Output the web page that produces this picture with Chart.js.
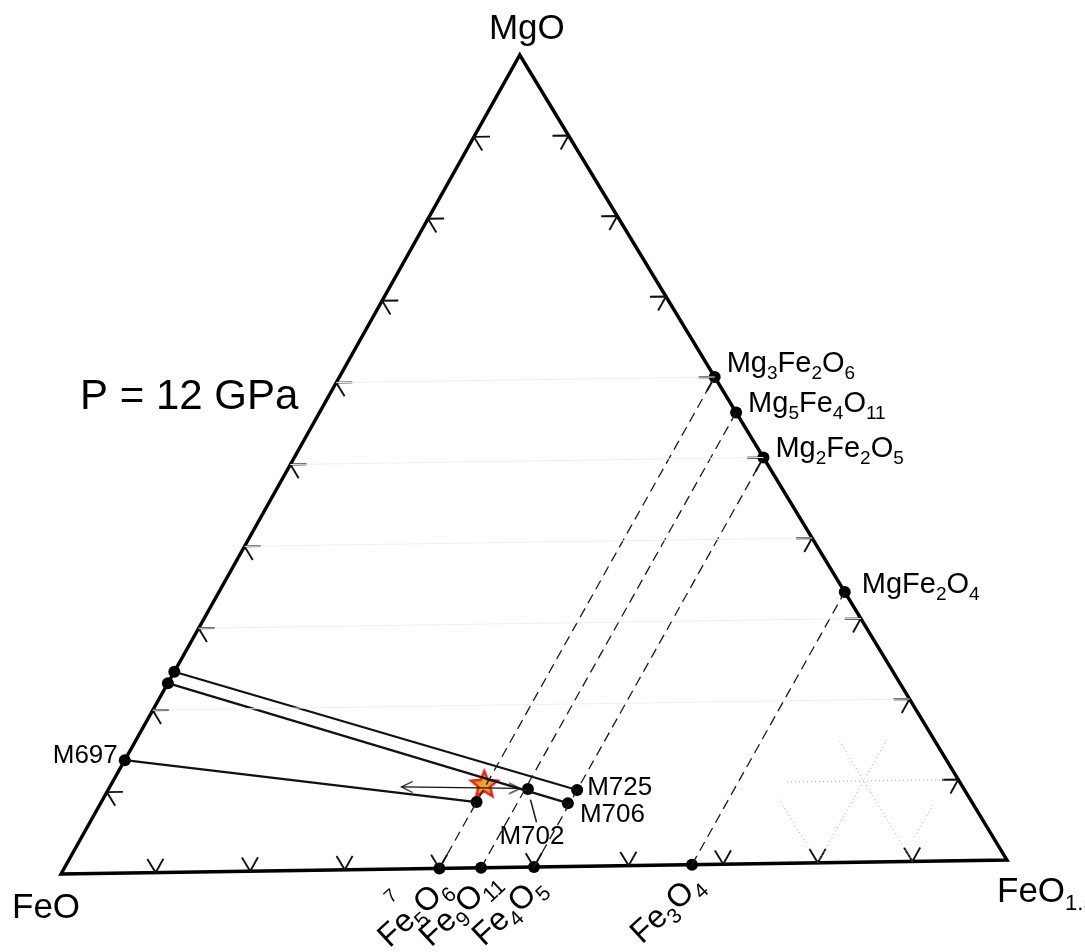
<!DOCTYPE html>
<html>
<head>
<meta charset="utf-8">
<script src="https://cdn.jsdelivr.net/npm/chart.js@4.4.0/dist/chart.umd.min.js"></script>
<style>
  html, body { margin: 0; padding: 0; background: #fff; }
  #wrap { width: 1085px; height: 952px; }
</style>
</head>
<body>
<div id="wrap"><canvas id="chart"></canvas></div>
<script>
// compositions are mole fractions [MgO, FeO1.5], FeO is the remainder
var cornerLabels = ['MgO', 'FeO', 'FeO1.5'];
var pressureLabel = 'P = 12 GPa';
var gridSteps = [0.1, 0.2, 0.3, 0.4, 0.5, 0.6, 0.7, 0.8, 0.9];

// FeO - FeO1.5 join
var feoxNames = ['Fe5O6', 'Fe9O11', 'Fe4O5', 'Fe3O4'];
var feoxFe3 = [0.400, 0.444, 0.500, 0.667];
// MgO - FeO1.5 join
var mgfeNames = ['Mg3Fe2O6', 'Mg5Fe4O11', 'Mg2Fe2O5', 'MgFe2O4'];
var mgfeMgO = [0.600, 0.556, 0.500, 0.333];

// experiments: (Mg,Fe)O on the FeO-MgO side tied to the oxide
var runNames = ['M725', 'M706', 'M697'];
var runStartMgO = [0.247, 0.233, 0.139];
var runEndMgO = [0.094, 0.078, 0.081];
var runEndFe3 = [0.500, 0.498, 0.400];
var m702Comp = [0.096, 0.447];
var m702Leader = [[0.083, 0.456], [0.055, 0.476]];
var startComp = [0.102, 0.398];
var arrowMgO = [0.101, 0.097];
var arrowFe3 = [0.311, 0.438];

// faint dotted grid pieces near the FeO1.5 corner
var dottedPieces = [
  [[0.1, 0.719], [0.1, 0.888]],
  [[0.0, 0.9], [0.15, 0.75]],
  [[0.0, 0.8], [0.15, 0.8]],
  [[0.03, 0.888], [0.07, 0.888]],
  [[0.02, 0.78], [0.08, 0.72]]
];

var FONT = '"Liberation Sans", Arial, Helvetica, sans-serif';
var apexShift = 0.485, baseTilt = 0.0171, tickLen = 0.017;

function xy(mgo, fe3) {
  return { x: fe3 + apexShift * mgo, y: mgo + baseTilt * fe3 };
}

function line(pts, color, width, dash) {
  return {
    data: pts.map(function (p) { return xy(p[0], p[1]); }),
    showLine: true, fill: false, tension: 0,
    borderColor: color, borderWidth: width, borderDash: dash || [],
    borderJoinStyle: 'miter', borderCapStyle: 'butt',
    pointRadius: 0, pointHoverRadius: 0, clip: false
  };
}

function makeStar() {
  var c = document.createElement('canvas');
  c.width = 34; c.height = 34;
  var g = c.getContext('2d');
  g.beginPath();
  for (var i = 0; i < 10; i++) {
    var r = i % 2 === 0 ? 14 : 6.2;
    var ang = -Math.PI / 2 + i * Math.PI / 5;
    g.lineTo(17 + r * Math.cos(ang), 17 + r * Math.sin(ang));
  }
  g.closePath();
  g.fillStyle = '#f4a11f';
  g.fill();
  g.strokeStyle = '#e4241b';
  g.lineWidth = 2.4;
  g.lineJoin = 'miter';
  g.stroke();
  return c;
}

function makeHead(dir) {
  var c = document.createElement('canvas');
  c.width = 26; c.height = 26;
  var g = c.getContext('2d');
  g.strokeStyle = '#111';
  g.lineWidth = 1.3;
  g.beginPath();
  g.moveTo(13 + dir * 11, 7.5);
  g.lineTo(13, 13);
  g.lineTo(13 + dir * 11, 18.5);
  g.stroke();
  return c;
}

var datasets = [];

// faint grid
[0.2, 0.3, 0.4, 0.5, 0.6].forEach(function (t) {
  datasets.push(line([[t, 0], [t, 1 - t]], '#efefef', 1));
});
dottedPieces.forEach(function (p) {
  datasets.push(line(p, '#a8a8a8', 1, [1, 3]));
});

// dashed joins
feoxFe3.forEach(function (b, i) {
  datasets.push(line([[0, b], [mgfeMgO[i], 1 - mgfeMgO[i]]], '#1a1a1a', 1.3, [10, 6]));
});

// ticks
gridSteps.forEach(function (t) {
  var L = tickLen;
  datasets.push(line([[L, t - L], [0, t], [L, t]], '#111', 1.9));
  datasets.push(line([[t, L], [t, 0], [t - L, L]], '#111', 1.9));
  datasets.push(line([[t, 1 - t - L], [t, 1 - t], [t - L, 1 - t]], '#111', 1.9));
});

// outline
datasets.push(line([[0, 0], [0, 1], [1, 0], [0, 0], [0, 1]], '#000', 3.4));

// tie lines
runStartMgO.forEach(function (a, i) {
  datasets.push(line([[a, 0], [runEndMgO[i], runEndFe3[i]]], '#111', 2.2));
});
datasets.push(line(m702Leader, '#222', 1.6));

// double arrow
datasets.push(line([[arrowMgO[0], arrowFe3[0]], [arrowMgO[1], arrowFe3[1]]], '#111', 1.3));
datasets.push({
  data: [xy(arrowMgO[0], arrowFe3[0]), xy(arrowMgO[1], arrowFe3[1])],
  showLine: false, pointStyle: [makeHead(1), makeHead(-1)], pointRadius: 12, clip: false
});

// points
var dots = [];
feoxFe3.forEach(function (b) { dots.push(xy(0, b)); });
mgfeMgO.forEach(function (a) { dots.push(xy(a, 1 - a)); });
runStartMgO.forEach(function (a) { dots.push(xy(a, 0)); });
runEndMgO.forEach(function (a, i) { dots.push(xy(a, runEndFe3[i])); });
dots.push(xy(m702Comp[0], m702Comp[1]));
datasets.push({
  data: dots, showLine: false, pointRadius: 6, pointHoverRadius: 6,
  pointBackgroundColor: '#000', pointBorderColor: '#000', pointBorderWidth: 0, clip: false
});

// starting composition
datasets.push({
  data: [xy(startComp[0], startComp[1])],
  showLine: false, pointStyle: makeStar(), pointRadius: 14, clip: false
});

function drawFormula(ctx, text, x, y, size, subSize, drop, align, chem) {
  var parts = chem ? text.match(/[A-Za-z]+|[\d.]+/g) : [text];
  var sub = parts.map(function (p) { return chem && /^[\d.]/.test(p); });
  var widths = parts.map(function (p, i) {
    ctx.font = (sub[i] ? subSize : size) + 'px ' + FONT;
    return ctx.measureText(p).width;
  });
  var total = widths.reduce(function (s, w) { return s + w; }, 0);
  var cx = align === 'center' ? x - total / 2 : (align === 'right' ? x - total : x);
  ctx.textAlign = 'left';
  ctx.textBaseline = 'alphabetic';
  parts.forEach(function (p, i) {
    ctx.font = (sub[i] ? subSize : size) + 'px ' + FONT;
    ctx.fillText(p, cx, y + (sub[i] ? drop : 0));
    cx += widths[i];
  });
}

var labelPlugin = {
  id: 'labels',
  afterDatasetsDraw: function (chart) {
    var ctx = chart.ctx;
    var sx = chart.scales.x, sy = chart.scales.y;
    function px(a, b) {
      var p = xy(a, b);
      return [sx.getPixelForValue(p.x), sy.getPixelForValue(p.y)];
    }
    ctx.save();
    ctx.fillStyle = '#000';

    var top = px(1, 0), left = px(0, 0), right = px(0, 1);
    drawFormula(ctx, cornerLabels[0], top[0] + 7, top[1] - 16, 35, 22, 8, 'center', false);
    drawFormula(ctx, cornerLabels[1], left[0] - 49, left[1] + 44, 35, 22, 8, 'left', true);
    drawFormula(ctx, cornerLabels[2], right[0] - 10, right[1] + 42, 35, 22, 8, 'left', true);
    drawFormula(ctx, pressureLabel, 80, 409, 42, 42, 0, 'left', false);

    var sideOff = [[12, -5], [12, 0], [12, 0], [17, 1]];
    mgfeNames.forEach(function (n, i) {
      var p = px(mgfeMgO[i], 1 - mgfeMgO[i]);
      drawFormula(ctx, n, p[0] + sideOff[i][0], p[1] + sideOff[i][1], 29, 19, 7, 'left', true);
    });

    feoxNames.forEach(function (n, i) {
      var p = px(0, feoxFe3[i]);
      ctx.save();
      ctx.translate(p[0] - 50, p[1] + 80);
      ctx.rotate(-43 * Math.PI / 180);
      drawFormula(ctx, n, 0, 0, 32, 21, 8, 'left', true);
      ctx.restore();
    });
    ctx.save();
    ctx.translate(391, 904);
    ctx.rotate(-43 * Math.PI / 180);
    ctx.font = '19px ' + FONT;
    ctx.fillText('7', 0, 0);
    ctx.restore();

    var e0 = px(runEndMgO[0], runEndFe3[0]);
    drawFormula(ctx, runNames[0], e0[0] + 10, e0[1] + 5, 26, 26, 0, 'left', false);
    var e1 = px(runEndMgO[1], runEndFe3[1]);
    drawFormula(ctx, runNames[1], e1[0] + 12, e1[1] + 19, 26, 26, 0, 'left', false);
    var s2 = px(runStartMgO[2], 0);
    drawFormula(ctx, runNames[2], s2[0] - 7, s2[1] + 3, 26, 26, 0, 'right', false);
    var m = px(m702Comp[0], m702Comp[1]);
    drawFormula(ctx, 'M702', m[0] + 4, m[1] + 55, 26, 26, 0, 'center', false);

    ctx.restore();
  }
};

new Chart(document.getElementById('chart'), {
  type: 'scatter',
  data: { datasets: datasets },
  options: {
    responsive: true,
    maintainAspectRatio: false,
    animation: false,
    events: [],
    layout: { padding: 0, autoPadding: false },
    plugins: { legend: { display: false }, tooltip: { enabled: false } },
    scales: {
      x: { type: 'linear', display: false, min: -61 / 946, max: 1024 / 946 },
      y: { type: 'linear', display: false, min: -78 / 819, max: 874 / 819 }
    }
  },
  plugins: [labelPlugin]
});
</script>
</body>
</html>
